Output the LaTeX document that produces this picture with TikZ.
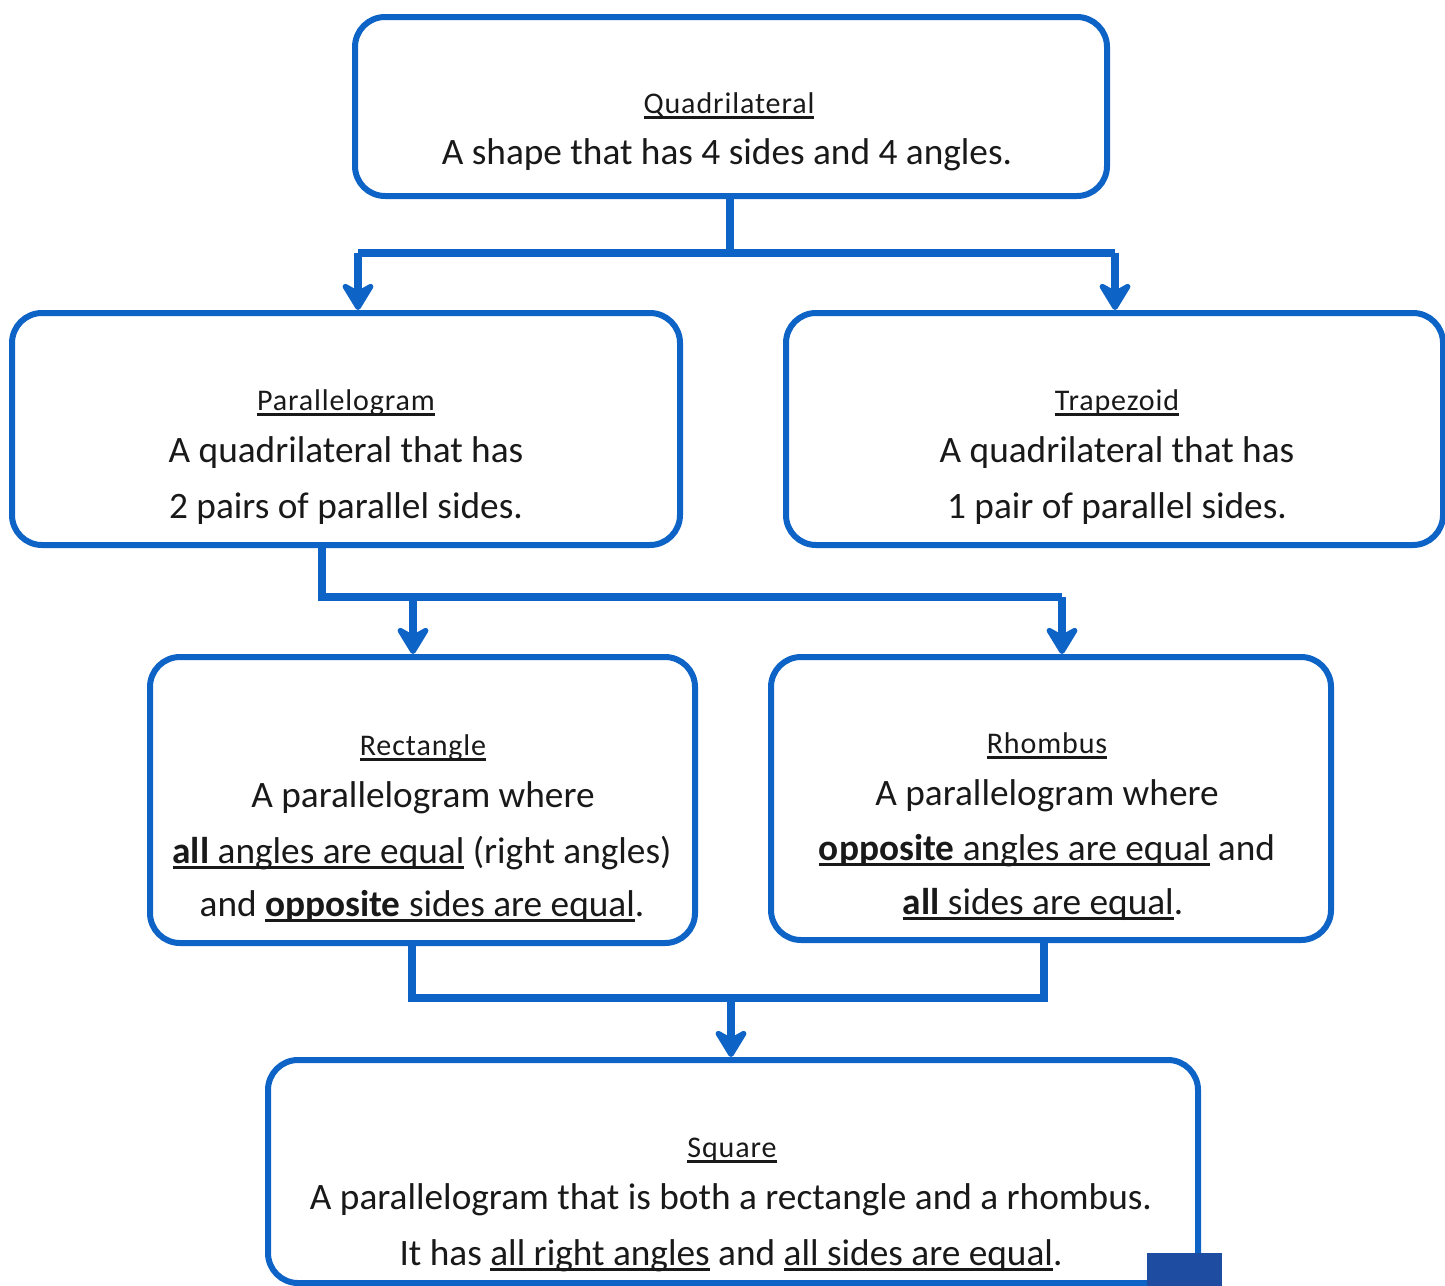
\documentclass[tikz,border=0pt]{standalone}
\usepackage{fontspec}
\setmainfont{Carlito}
\newfontfamily\titlefont[LetterSpace=3]{Carlito}
\usetikzlibrary{arrows.meta,calc}
\definecolor{boxblue}{RGB}{14,100,198}
\definecolor{darkblue}{RGB}{30,76,160}
\definecolor{inkgray}{RGB}{25,25,25}
\newsavebox{\ulbox}
\newcommand{\ulx}[1]{\sbox{\ulbox}{#1}\rlap{\rule[-6pt]{\wd\ulbox}{3pt}}\usebox{\ulbox}}
\tikzset{
  box/.style={draw=boxblue, line width=6pt, rounded corners=30pt, rectangle, inner sep=0pt},
  ttl/.style={anchor=base, inner sep=0pt, text=inkgray, font=\titlefont\fontsize{30}{34}\selectfont},
  txt/.style={anchor=base, inner sep=0pt, text=inkgray, font=\fontsize{37.3}{42}\selectfont},
  line/.style={draw=boxblue, line width=7.5pt},
  arr/.style={line, -{Stealth[length=33pt,width=40pt,inset=11pt,round]}},
}
\begin{document}
\begin{tikzpicture}[x=1pt,y=-1pt]
\useasboundingbox (0,0) rectangle (1445,1285);
% boxes
\node[box, minimum width=752pt, minimum height=179pt] (q) at (731,106.5) {};
\node[box, minimum width=668pt, minimum height=232pt] (p) at (346,429) {};
\node[box, minimum width=657pt, minimum height=232pt] (t) at (1114.5,429) {};
\node[box, minimum width=545pt, minimum height=286pt] (r) at (422.5,800) {};
\node[box, minimum width=560pt, minimum height=283pt] (h) at (1051,798.5) {};
\node[box, minimum width=930pt, minimum height=223pt] (s) at (733,1171.5) {};
% texts
\node[ttl] (q0) at (729,113) {\ulx{Quadrilateral}};
\node[txt] (q1) at (727,164) {A shape that has 4 sides and 4 angles.};
\node[ttl] (p0) at (346,410) {\ulx{Parallelogram}};
\node[txt] (p1) at (346,462) {A quadrilateral that has};
\node[txt] (p2) at (346,518) {2 pairs of parallel sides.};
\node[ttl] (t0) at (1117,410) {\ulx{Trapezoid}};
\node[txt] (t1) at (1117,462) {A quadrilateral that has};
\node[txt] (t2) at (1117,518) {1 pair of parallel sides.};
\node[ttl] (r0) at (423,755) {\ulx{Rectangle}};
\node[txt] (r1) at (423,807) {A parallelogram where};
\node[txt] (r2) at (422,863) {\ulx{\textbf{all} angles are equal} (right angles)};
\node[txt] (r3) at (422,916) {and \ulx{\textbf{opposite} sides are equal}.};
\node[ttl] (h0) at (1047,753) {\ulx{Rhombus}};
\node[txt] (h1) at (1047,805) {A parallelogram where};
\node[txt] (h2) at (1047,860) {\ulx{\textbf{opposite} angles are equal} and};
\node[txt] (h3) at (1043,914) {\ulx{\textbf{all} sides are equal}.};
\node[ttl] (s0) at (732,1157) {\ulx{Square}};
\node[txt] (s1) at (731,1209) {A parallelogram that is both a rectangle and a rhombus.};
\node[txt] (s2) at (731,1265) {It has \ulx{all right angles} and \ulx{all sides are equal}.};
% connectors
\coordinate (j1) at (730,253);
\coordinate (j1l) at (358,253);
\coordinate (j1r) at (1115,253);
\draw[line] ($(q.south)+(-1,0)$) -- (j1);
\draw[line] (j1l) -- (j1r);
\draw[arr] (j1l) -- ($(p.north)+(12,0)$);
\draw[arr] (j1r) -- ($(t.north)+(0.5,0)$);
\coordinate (j2) at (322,597);
\coordinate (j2a) at (413,597);
\coordinate (j2r) at (1062,597);
\draw[line] ($(p.south)+(-24,0)$) -- (j2) -- (j2r);
\draw[arr] (j2a) -- ($(r.north)+(-9.5,0)$);
\draw[arr] (j2r) -- ($(h.north)+(11,0)$);
\coordinate (j3l) at (412,998);
\coordinate (j3r) at (1044,998);
\coordinate (j3) at (731,998);
\draw[line] ($(r.south)+(-10.5,0)$) -- (j3l) -- (j3r) -- ($(h.south)+(-7,0)$);
\draw[arr] (j3) -- ($(s.north)+(-2,0)$);
% dark square
\fill[darkblue] (1147,1253) rectangle (1222,1290);
\end{tikzpicture}
\end{document}
